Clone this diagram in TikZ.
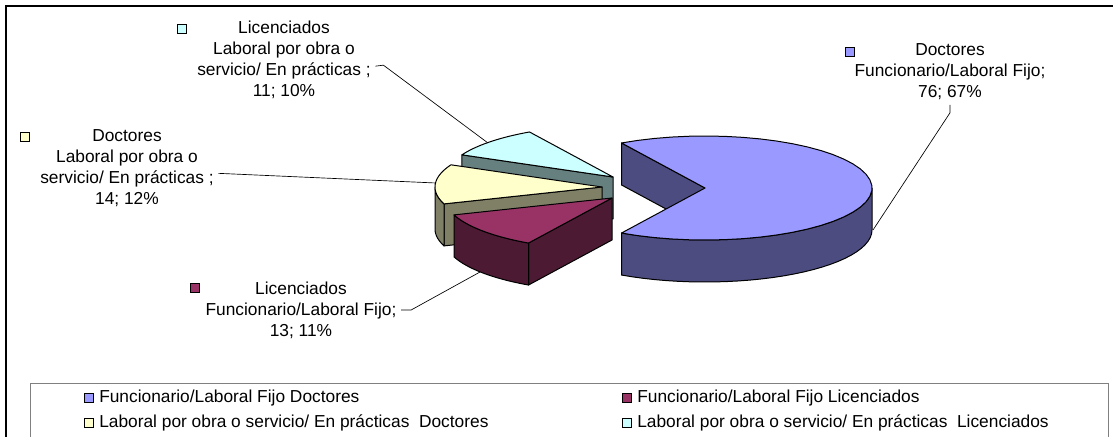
\documentclass[tikz,border=0pt]{standalone}
\usepackage{fontspec}
\setmainfont{Liberation Sans}
\usetikzlibrary{positioning}
\definecolor{docfijo}{RGB}{153,153,255}
\definecolor{docfijoside}{RGB}{76,76,128}
\definecolor{licfijo}{RGB}{153,51,102}
\definecolor{licfijoside}{RGB}{77,26,51}
\definecolor{docobra}{RGB}{255,255,204}
\definecolor{docobraside}{RGB}{128,128,102}
\definecolor{licobra}{RGB}{204,255,255}
\definecolor{licobraside}{RGB}{102,128,128}
\tikzset{
  sliceface/.style={draw=black, line width=0.75pt, line join=round},
  marker/.style={draw=black, line width=0.5pt, minimum size=7pt, inner sep=0pt},
  labeltext/.style={align=center, font=\fontsize{13}{15.75}\selectfont},
  legendtext/.style={anchor=west, font=\fontsize{13}{15.75}\selectfont, inner sep=0pt},
  leader/.style={draw=black, line width=0.5pt}
}
% apex x, apex y, angle, colour
\newcommand{\slicecut}[4]{%
  \path[sliceface, fill=#4] (#1,#2) -- ({#1+167*cos(#3)},{#2-52*sin(#3)}) -- ++(0,42) -- (#1,#2+42) -- cycle;}
% apex x, apex y, from, to, colour
\newcommand{\sliceside}[5]{%
  \path[sliceface, fill=#5] plot[domain=#3:#4, samples=30] ({#1+167*cos(\x)},{#2-52*sin(\x)})
    -- plot[domain=#4:#3, samples=30] ({#1+167*cos(\x)},{#2+42-52*sin(\x)}) -- cycle;}
\newcommand{\slicetop}[5]{%
  \path[sliceface, fill=#5] (#1,#2) -- plot[domain=#3:#4, samples=40] ({#1+167*cos(\x)},{#2-52*sin(\x)}) -- cycle;}

\begin{document}
\begin{tikzpicture}[x=0.75pt, y=-0.75pt]
	\useasboundingbox (0,0) rectangle (1113,436);
	\clip (0,0) rectangle (1113,436);
	\draw[line width=1.5pt] (6,450) -- (6,6) -- (1130,6);

	% exploded slices, back to front
	\slicecut{613}{177}{154.74}{licobraside}
	\slicetop{613}{177}{120}{154.74}{licobra}
	\slicecut{602}{187}{198.95}{docobraside}
	\sliceside{602}{187}{180}{198.95}{docobraside}
	\slicetop{602}{187}{154.74}{198.95}{docobra}
	\slicecut{612}{198}{240}{licfijoside}
	\sliceside{612}{198}{198.95}{240}{licfijoside}
	\slicetop{612}{198}{198.95}{240}{licfijo}
	% big slice
	\slicecut{705}{188}{120}{docfijoside}
	\sliceside{705}{188}{-120}{0}{docfijoside}
	\slicetop{705}{188}{-120}{120}{docfijo}

	\coordinate (licobrapt) at (488,143);
	\coordinate (docobrapt) at (436,183);
	\coordinate (licfijopt) at (480,272);
	\coordinate (docfijopt) at (873,230);

	% data labels
	\node[marker, fill=licobra] (mklicobra) at (182,29) {};
	\node[labeltext] (lbllicobra) at (284,59.5) {Licenciados\\Laboral por obra o\\servicio/ En prácticas ;\\11; 10\%};
	\node[marker, fill=docobra] (mkdocobra) at (25,137) {};
	\node[labeltext] (lbldocobra) at (127,168) {Doctores\\Laboral por obra o\\servicio/ En prácticas ;\\14; 12\%};
	\node[marker, fill=docfijo] (mkdocfijo) at (850,52) {};
	\node[labeltext] (lbldocfijo) at (950,72) {Doctores\\Funcionario/Laboral Fijo;\\76; 67\%};
	\node[marker, fill=licfijo] (mklicfijo) at (195,288) {};
	\node[labeltext] (lbllicfijo) at (301,310) {Licenciados\\Funcionario/Laboral Fijo;\\13; 11\%};

	\draw[leader] ([yshift=-5]lbllicobra.east) -- ++(8,-1) -- (licobrapt);
	\draw[leader] ([yshift=-4]lbldocobra.east) -- (docobrapt);
	\draw[leader] (lbllicfijo.east) -- ++(10,0) -- (licfijopt);
	\draw[leader] (lbldocfijo.south) -- ++(0,8) -- (docfijopt);

	% legend
	\draw[gray, line width=0.75pt] (30,450) -- (30,383) -- (1108,383) -- (1108,450);
	\node[marker, fill=docfijo] (legdocfijo) at (89,398) {};
	\node[legendtext, right=3.75pt of legdocfijo] (txtdocfijo) {Funcionario/Laboral Fijo Doctores};
	\node[marker, fill=licfijo] (leglicfijo) at (627,398) {};
	\node[legendtext, right=3.75pt of leglicfijo] (txtlicfijo) {Funcionario/Laboral Fijo Licenciados};
	\node[marker, fill=docobra] (legdocobra) at (89,423) {};
	\node[legendtext, right=3.75pt of legdocobra] (txtdocobra) {Laboral por obra o servicio/ En prácticas\ \ Doctores};
	\node[marker, fill=licobra] (leglicobra) at (627,423) {};
	\node[legendtext, right=3.75pt of leglicobra] (txtlicobra) {Laboral por obra o servicio/ En prácticas\ \ Licenciados};
\end{tikzpicture}
\end{document}
